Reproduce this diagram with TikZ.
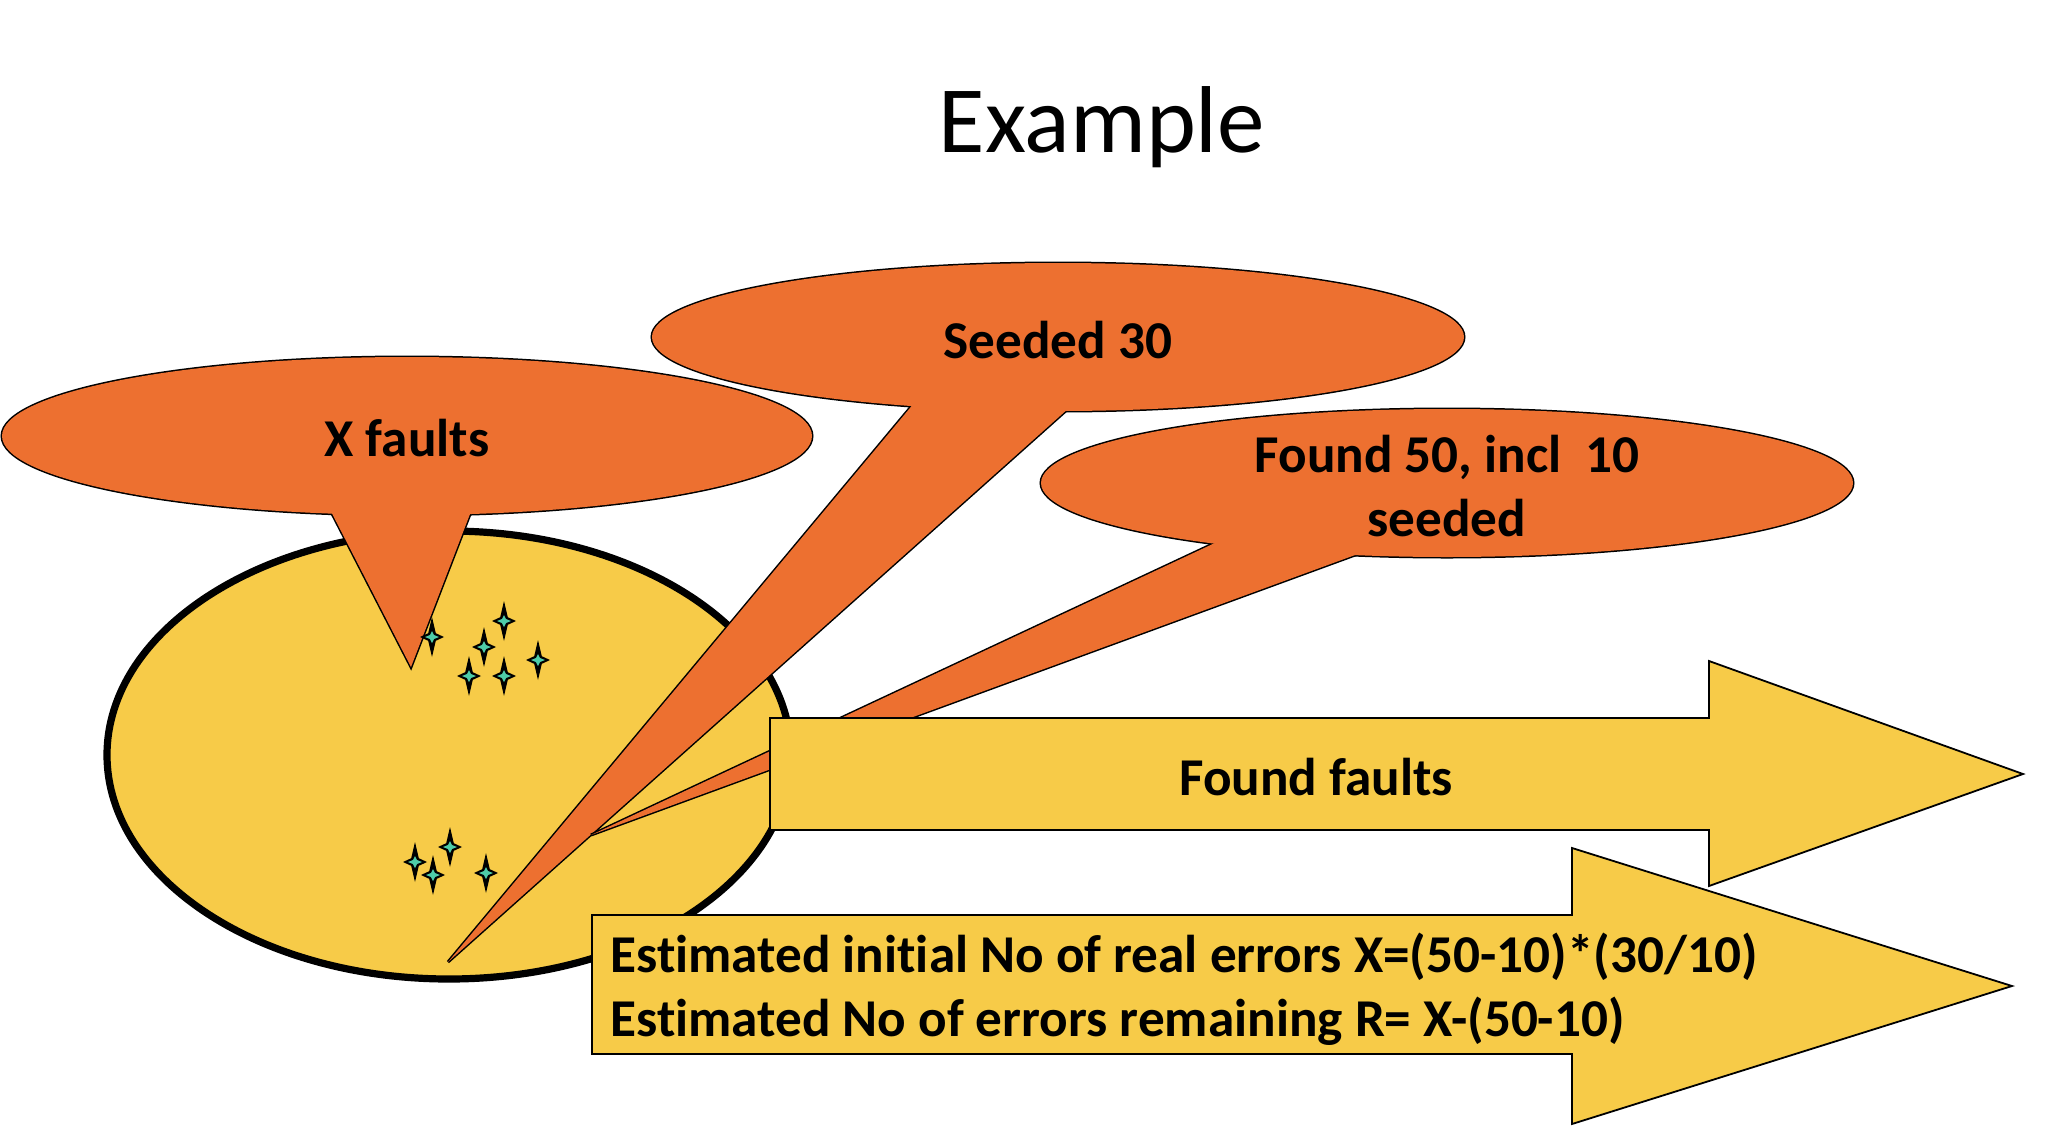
\documentclass[tikz,border=0pt]{standalone}
\usepackage{fontspec}
\setmainfont{Carlito}[Ligatures=NoCommon]
\definecolor{calorange}{RGB}{237,112,48}
\definecolor{calyellow}{RGB}{247,203,72}
\definecolor{startteal}{RGB}{78,204,168}
\begin{document}
\begin{tikzpicture}[x=0.5pt,y=-0.5pt,
  cstroke/.style={draw=black,line width=1.5pt},
  cfill/.style={fill=calorange},
  arrowshape/.style={draw=black,line width=0.9pt,fill=calyellow,line join=miter},
  lbl/.style={inner sep=0pt,font=\bfseries\fontsize{26.6}{32}\selectfont},
  sparkle/.pic={
    \fill[black] (0,-20) -- (3.8,-3.8) -- (12,0) -- (3.8,3.8) -- (0,20) -- (-3.8,3.8) -- (-12,0) -- (-3.8,-3.8) -- cycle;
    \fill[startteal] (0,-6) -- (2,-2) -- (7,0) -- (2,2) -- (0,6) -- (-2,2) -- (-7,0) -- (-2,-2) -- cycle;
  }]
\fill[white] (0,0) rectangle (2058,1136);
\useasboundingbox (0,0) rectangle (2058,1136);

\node[inner sep=0pt,font=\fontsize{47.5}{56}\selectfont] (title) at (1102,127) {Example};

% big yellow ellipse
\draw[fill=calyellow,line width=3.6pt] (449,755) ellipse [x radius=171pt,y radius=112pt];

% X faults callout
\coordinate (xtip) at (411,667);
\draw[cstroke] (407,436) ellipse [x radius=202.5pt,y radius=39.5pt];
\draw[cstroke] (323,496) -- (xtip) -- (477,496) -- cycle;
\fill[cfill] (323,496) -- (xtip) -- (477,496) -- cycle;
\fill[cfill] (407,436) ellipse [x radius=202.5pt,y radius=39.5pt];
\node[lbl] (xtext) at (407,438) {X faults};

% sparkles
\foreach \p in {(432,637),(504,621),(484,647),(469,676),(504,676),(538,660),(415,862),(450,847),(433,875),(486,873)}
  \pic at \p {sparkle};

% Seeded callout
\coordinate (stip) at (448,962);
\draw[cstroke] (1058,337) ellipse [x radius=203pt,y radius=37pt];
\draw[cstroke] (935,378) -- (stip) -- (1097,383) -- cycle;
\fill[cfill] (935,378) -- (stip) -- (1097,383) -- cycle;
\fill[cfill] (1058,337) ellipse [x radius=203pt,y radius=37pt];
\node[lbl] (stext) at (1058,340) {Seeded 30};

% Found callout
\coordinate (ftip) at (591,835);
\draw[cstroke] (1447,483) ellipse [x radius=203pt,y radius=37pt];
\draw[cstroke] (1249,527) -- (ftip) -- (1396,540) -- cycle;
\fill[cfill] (1249,527) -- (ftip) -- (1396,540) -- cycle;
\fill[cfill] (1447,483) ellipse [x radius=203pt,y radius=37pt];
\node[lbl,align=center] (ftext) at (1447,486) {Found 50, incl\ \ 10\\seeded};

% Found faults arrow
\draw[arrowshape] (770,718) -- (1709,718) -- (1709,661) -- (2023,774) -- (1709,886) -- (1709,830) -- (770,830) -- cycle;
\node[lbl] (fftext) at (1316,777) {Found faults};

% Estimated arrow
\draw[arrowshape] (592,915) -- (1572,915) -- (1572,848) -- (2012,986) -- (1572,1124) -- (1572,1054) -- (592,1054) -- cycle;
\node[lbl,align=left,anchor=west] (etext) at (610,989) {Estimated initial No of real errors X=(50-10)*(30/10)\\Estimated No of errors remaining R= X-(50-10)};
\end{tikzpicture}
\end{document}
